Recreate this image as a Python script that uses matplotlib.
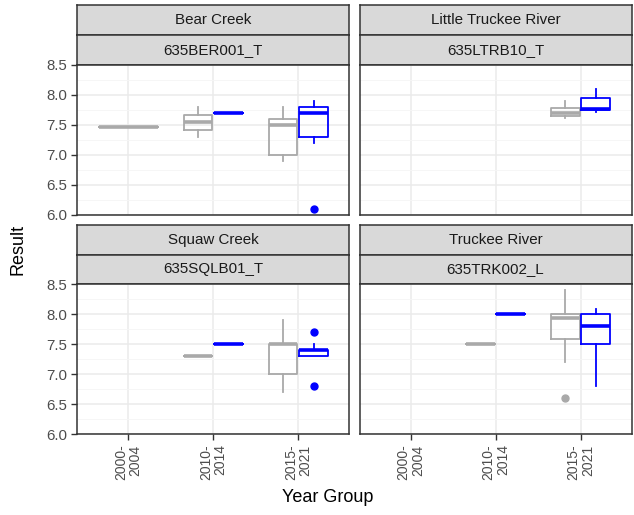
import matplotlib
matplotlib.use("Agg")
import matplotlib.pyplot as plt
from matplotlib.ticker import MultipleLocator

plt.rcParams['font.family'] = ['Liberation Sans', 'DejaVu Sans']

# ---------------- data ----------------
sites = ["Bear Creek", "Little Truckee River", "Squaw Creek", "Truckee River"]
stations = ["635BER001_T", "635LTRB10_T", "635SQLB01_T", "635TRK002_L"]
year_groups = ["2000-\n2004", "2010-\n2014", "2015-\n2021"]
series_names = ["A", "B"]
series_colors = ["#A9A9A9", "#0000FF"]

box_site = [0, 0, 0, 0, 0, 1, 1, 2, 2, 2, 2, 3, 3, 3, 3]
box_group = [0, 1, 1, 2, 2, 2, 2, 1, 1, 2, 2, 1, 1, 2, 2]
box_series = [0, 0, 1, 0, 1, 0, 1, 0, 1, 0, 1, 0, 1, 0, 1]
box_low = [7.47, 7.30, 7.70, 6.90, 7.20, 7.61, 7.72, 7.30, 7.50, 6.70, 7.30, 7.50, 8.00, 7.20, 6.80]
box_q1 = [7.47, 7.42, 7.70, 7.00, 7.30, 7.65, 7.75, 7.30, 7.50, 7.00, 7.30, 7.50, 8.00, 7.58, 7.50]
box_med = [7.47, 7.54, 7.70, 7.50, 7.70, 7.69, 7.77, 7.30, 7.50, 7.50, 7.40, 7.50, 8.00, 7.94, 7.80]
box_q3 = [7.47, 7.66, 7.70, 7.60, 7.80, 7.78, 7.95, 7.30, 7.50, 7.50, 7.40, 7.50, 8.00, 8.00, 8.00]
box_high = [7.47, 7.79, 7.70, 7.80, 7.90, 7.89, 8.10, 7.30, 7.50, 7.90, 7.50, 7.50, 8.00, 8.40, 8.08]
box_fliers = [[], [], [], [], [6.1], [], [], [], [], [], [7.7, 6.8], [], [], [6.6], []]

y_ticks = [6.0, 6.5, 7.0, 7.5, 8.0, 8.5]

# ---------------- layout ----------------
W, H = 634, 515
fig = plt.figure(figsize=(W / 100, H / 100), dpi=100)

def rect(x0, y0, x1, y1):
    return [x0 / W, 1 - y1 / H, (x1 - x0) / W, (y1 - y0) / H]

cols = [(77.3, 349.3), (359.5, 631.5)]
rows = [dict(s1=(5, 35), s2=(35, 65), p=(65, 214.5)),
        dict(s1=(225, 254.5), s2=(254.5, 284.3), p=(284.3, 434))]

grid_major = "#EBEBEB"
edge = "#333333"
tick_color = "#4D4D4D"

for i in range(4):
    r, c = divmod(i, 2)
    x0, x1 = cols[c]
    rw = rows[r]
    # strips
    for key, label in (("s1", sites[i]), ("s2", stations[i])):
        sy0, sy1 = rw[key]
        sax = fig.add_axes(rect(x0, sy0, x1, sy1))
        sax.set_facecolor("#D9D9D9")
        sax.set_xticks([]); sax.set_yticks([])
        for sp in sax.spines.values():
            sp.set_color(edge); sp.set_linewidth(1.1)
        sax.text(0.5, 0.5, label, ha="center", va="center", fontsize=10.9,
                 color="#1A1A1A", transform=sax.transAxes)
    py0, py1 = rw["p"]
    ax = fig.add_axes(rect(x0, py0, x1, py1))
    ax.set_xlim(0.4, 3.6)
    ax.set_ylim(6.0, 8.5)
    ax.set_xticks([1, 2, 3])
    ax.yaxis.set_major_locator(MultipleLocator(0.5))
    ax.yaxis.set_minor_locator(MultipleLocator(0.25))
    ax.grid(True, which="major", color=grid_major, linewidth=1.1, zorder=0)
    ax.grid(True, which="minor", axis="y", color="#F5F5F5", linewidth=0.6, zorder=0)
    ax.set_axisbelow(True)
    for sp in ax.spines.values():
        sp.set_color(edge); sp.set_linewidth(1.1)
    ax.tick_params(which="minor", length=0)
    ax.tick_params(which="major", length=4, width=1, color=edge, labelcolor=tick_color)
    ax.tick_params(axis="y", labelsize=10.8)
    ax.tick_params(axis="x", labelsize=10)
    if c == 0:
        ax.set_yticks(y_ticks)
        ax.set_yticklabels([f"{v:.1f}" for v in y_ticks])
        ax.yaxis.set_minor_locator(MultipleLocator(0.25))
    else:
        ax.tick_params(axis="y", which="both", left=False, labelleft=False)
    if r == 1:
        ax.set_xticklabels(year_groups, rotation=90, va="top", ha="center",
                           multialignment="right", linespacing=1.05)
    else:
        ax.tick_params(axis="x", bottom=False, labelbottom=False)

    # boxes
    idx = [k for k in range(len(box_site)) if box_site[k] == i]
    for k in idx:
        g = box_group[k]
        n_in_group = sum(1 for j in idx if box_group[j] == g)
        if n_in_group == 1:
            pos, wid = g + 1, 0.69
        else:
            pos = g + 1 + (-0.18 if box_series[k] == 0 else 0.18)
            wid = 0.34
        col = series_colors[box_series[k]]
        st = dict(med=box_med[k], q1=box_q1[k], q3=box_q3[k],
                  whislo=box_low[k], whishi=box_high[k], fliers=box_fliers[k])
        ax.bxp([st], positions=[pos], widths=[wid], showcaps=False,
               boxprops=dict(color=col, linewidth=1.3),
               whiskerprops=dict(color=col, linewidth=1.3),
               medianprops=dict(color=col, linewidth=2.6, solid_capstyle="butt"),
               flierprops=dict(marker="o", markerfacecolor=col, markeredgecolor=col,
                               markersize=5, linestyle="none"),
               manage_ticks=False, zorder=3)

fig.text(328 / W, 1 - 498 / H, "Year Group", ha="center", va="center", fontsize=13)
fig.text(18 / W, 1 - 249.5 / H, "Result", ha="center", va="center", fontsize=13,
         rotation=90)

fig.savefig("out.png", dpi=100)
